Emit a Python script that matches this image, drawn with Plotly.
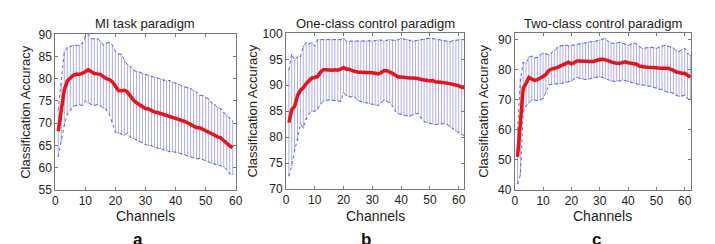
import plotly.graph_objects as go

# ---------- data ----------
ch_a = list(range(1, 60))
mean_a = [68.2, 73.5, 77.5, 79.5, 80.3, 80.8, 81.0, 81.0, 81.2, 81.6, 82.0, 81.6, 81.2, 81.1, 81.0,
          80.5, 80.0, 79.8, 79.3, 78.3, 77.4, 77.3, 77.4, 77.0, 76.0, 75.2, 74.6, 74.2, 73.6, 73.3,
          73.2, 72.8, 72.5, 72.4, 72.2, 72.0, 71.7, 71.6, 71.4, 71.1, 70.9, 70.7, 70.4, 70.1, 69.8,
          69.4, 69.0, 69.0, 68.7, 68.4, 68.1, 67.8, 67.3, 66.9, 66.7, 66.1, 65.4, 64.9, 64.5]
upper_a = [73, 79, 86, 87, 87.3, 87.5, 87.5, 87.5, 88, 89.5, 90, 89, 89, 89, 88.5,
           87.6, 88, 88.2, 87.6, 86.2, 85.6, 85.5, 84.2, 83.2, 82.7, 82.0, 81.6, 81.5, 81.2, 81.0,
           80.8, 80.5, 80.4, 80.2, 79.9, 79.8, 79.5, 79.6, 79.2, 79.0, 78.8, 78.4, 78.2, 78.0, 77.8,
           77.3, 77.0, 76.3, 76.2, 75.8, 75.5, 74.6, 74.2, 73.5, 73.3, 72.4, 71.8, 71.2, 70.5]
lower_a = [62.5, 66, 69.5, 72, 73, 73.8, 74.0, 74.1, 74.0, 75.0, 74.6, 74.2, 74.0, 74.2, 73.9,
           73.4, 73.0, 72.0, 70.2, 68.0, 67.8, 67.6, 67.3, 67.8, 66.8, 66.6, 66.2, 65.9, 65.6, 65.2,
           65.0, 64.9, 64.6, 64.4, 64.3, 64.1, 63.9, 63.6, 63.6, 63.5, 63.3, 63.1, 62.9, 62.6, 62.5,
           62.2, 62.0, 62.1, 61.8, 61.6, 61.3, 61.0, 60.8, 60.6, 60.4, 60.2, 59.5, 58.6, 58.5]

ch_b = list(range(1, 63))
mean_b = [82.8, 85.3, 85.9, 88.0, 89.0, 89.5, 90.3, 90.9, 91.4, 91.5, 91.7, 92.5, 93.0, 93.0, 92.9,
          92.9, 93.0, 92.9, 93.1, 93.4, 93.1, 93.1, 92.8, 92.6, 92.5, 92.5, 92.5, 92.4, 92.4, 92.4,
          92.3, 92.2, 92.4, 92.8, 92.8, 92.6, 92.3, 91.9, 91.6, 91.6, 91.5, 91.5, 91.4, 91.4, 91.4,
          91.3, 91.1, 91.0, 90.9, 90.8, 90.9, 90.6, 90.6, 90.6, 90.5, 90.4, 90.3, 90.1, 90.0, 89.9,
          89.6, 89.5]
upper_b = [93, 96, 94.8, 95.5, 95.5, 97.5, 98.2, 98.0, 98.2, 97.6, 98.8, 98.8, 98.8, 98.8, 98.8,
           98.8, 98.8, 98.8, 98.8, 99.0, 98.5, 98.5, 98.5, 98.5, 98.5, 98.5, 98.5, 98.5, 98.5, 98.5,
           98.6, 98.7, 98.7, 98.5, 98.7, 98.8, 98.7, 98.6, 98.8, 99.0, 98.9, 98.8, 98.7, 98.5, 98.6,
           98.7, 98.8, 98.9, 99.0, 99.1, 99.0, 98.9, 98.8, 98.7, 98.6, 98.5, 98.4, 98.6, 98.7, 98.8,
           98.8, 98.8]
lower_b = [72.5, 74.5, 77.5, 79.5, 82.5, 81.8, 83.5, 84.5, 85.0, 85.0, 85.4, 86.4, 86.9, 87.1, 87.2,
           87.1, 87.0, 87.0, 86.9, 88.5, 88.0, 87.8, 87.8, 87.7, 87.0, 86.8, 86.7, 86.6, 86.5, 86.3,
           86.2, 86.1, 86.6, 87.1, 86.9, 86.6, 86.0, 85.0, 84.5, 84.4, 84.2, 84.1, 84.0, 84.3, 84.5,
           84.6, 83.6, 83.0, 82.8, 82.6, 82.5, 82.4, 82.5, 82.6, 82.6, 82.4, 82.0, 81.6, 81.2, 80.8,
           80.5, 80.3]

ch_c = list(range(1, 63))
mean_c = [51, 62, 74, 75.5, 77.5, 77.0, 76.5, 76.8, 77.2, 77.8, 78.5, 79.8, 80.3, 80.5, 80.8,
          81.3, 81.8, 82.4, 82.6, 82.0, 82.6, 83.0, 83.0, 82.9, 82.8, 82.9, 82.8, 82.9, 83.3, 83.5,
          83.6, 83.4, 83.1, 82.7, 82.3, 82.2, 82.2, 82.6, 82.7, 82.4, 82.3, 82.2, 81.9, 81.3, 81.0,
          81.0, 80.9, 80.9, 80.8, 80.7, 80.6, 80.5, 80.6, 80.6, 80.3, 79.9, 79.3, 79.0, 78.9, 78.9,
          78.4, 77.6]
upper_c = [60, 77, 82.5, 82.3, 84.3, 84.6, 84.0, 84.2, 85.0, 85.6, 85.4, 85.0, 85.8, 86.5, 87.5,
           88.0, 88.2, 88.3, 88.0, 88.2, 88.2, 88.6, 88.8, 88.9, 89.0, 89.2, 89.4, 89.5, 89.7, 90.0,
           90.2, 90.5, 89.5, 89.0, 88.9, 89.0, 89.2, 89.0, 88.5, 88.2, 88.6, 89.0, 88.6, 87.8, 87.2,
           87.3, 87.5, 87.6, 87.4, 87.2, 87.6, 88.0, 88.2, 88.0, 87.7, 87.3, 86.5, 86.2, 86.8, 87.2,
           85.5, 84.8]
lower_c = [42, 45, 66, 68, 69, 70, 70.0, 69.8, 70.0, 70.6, 72.5, 75.0, 75.2, 75.3, 75.3,
           75.4, 75.6, 75.9, 76.0, 76.3, 77.0, 77.5, 77.2, 77.0, 76.8, 76.9, 77.2, 77.4, 77.6, 77.7,
           77.5, 77.2, 76.7, 76.3, 76.2, 76.3, 76.5, 76.6, 76.5, 76.2, 75.9, 75.6, 75.4, 75.1, 75.0,
           74.9, 74.7, 74.5, 74.2, 74.0, 73.6, 73.4, 73.0, 72.6, 72.5, 72.2, 71.6, 71.2, 71.3, 71.6,
           70.5, 70.0]

titles = ["MI task paradigm", "One-class control paradigm", "Two-class control paradigm"]
letters = ["a", "b", "c"]
x_ranges = [[0, 60], [0, 62], [0, 62.3]]
y_ranges = [[55, 90], [70, 100], [40, 92.2]]
y_ticks = [[55, 60, 65, 70, 75, 80, 85, 90], [70, 75, 80, 85, 90, 95, 100], [40, 50, 60, 70, 80, 90]]
x_ticks = [0, 10, 20, 30, 40, 50, 60]

W, H = 715, 244
x_dom_px = [(53, 236), (287, 468), (519, 698)]
y_dom_px = [(29, 194), (28, 193), (28, 194)]
ytitle_px = [22, 253, 487]
letter_px = [137, 368, 602]

panels = [(ch_a, mean_a, upper_a, lower_a), (ch_b, mean_b, upper_b, lower_b), (ch_c, mean_c, upper_c, lower_c)]

fig = go.Figure()
font_family = "Liberation Sans, Arial, sans-serif"
annotations = []
for i, (ch, m, up, lo) in enumerate(panels):
    xa = "x" if i == 0 else f"x{i+1}"
    ya = "y" if i == 0 else f"y{i+1}"
    plus = [u - v for u, v in zip(up, m)]
    minus = [v - l for v, l in zip(m, lo)]
    fig.add_trace(go.Scatter(x=ch, y=up, mode="lines", line=dict(color="rgba(60,60,220,0.8)", width=1, dash="dot"),
                             xaxis=xa, yaxis=ya, showlegend=False, hoverinfo="skip"))
    fig.add_trace(go.Scatter(x=ch, y=lo, mode="lines", line=dict(color="rgba(60,60,220,0.8)", width=1, dash="dot"),
                             xaxis=xa, yaxis=ya, showlegend=False, hoverinfo="skip"))
    fig.add_trace(go.Scatter(x=ch, y=m, mode="lines", line=dict(color="rgba(0,0,0,0)", width=0),
                             error_y=dict(type="data", symmetric=False, array=plus, arrayminus=minus,
                                          color="rgba(90,90,235,0.7)", thickness=0.7, width=1),
                             xaxis=xa, yaxis=ya, showlegend=False))
    fig.add_trace(go.Scatter(x=ch, y=m, mode="lines", line=dict(color="#ee1111", width=3.5),
                             xaxis=xa, yaxis=ya, showlegend=False))

    x0, x1 = x_dom_px[i]
    y0, y1 = y_dom_px[i]
    axis_common = dict(showgrid=False, zeroline=False, showline=True, mirror="ticks", linecolor="#777",
                       linewidth=1, ticks="inside", ticklen=3, tickcolor="#777",
                       tickfont=dict(family=font_family, size=12, color="#222"))
    fig.update_layout(**{
        ("xaxis" if i == 0 else f"xaxis{i+1}"): dict(domain=[x0 / W, x1 / W], range=x_ranges[i],
                                                      tickvals=x_ticks, anchor=ya, **axis_common),
        ("yaxis" if i == 0 else f"yaxis{i+1}"): dict(domain=[1 - y1 / H, 1 - y0 / H], range=y_ranges[i],
                                                      tickvals=y_ticks[i], anchor=xa, **axis_common),
    })
    cx = (x0 + x1) / 2 / W
    annotations.append(dict(text=titles[i], x=cx, y=1 - 17 / H, xref="paper", yref="paper", showarrow=False,
                            font=dict(family=font_family, size=13, color="#222"), xanchor="center", yanchor="middle"))
    annotations.append(dict(text="Channels", x=cx, y=1 - 222 / H, xref="paper", yref="paper", showarrow=False,
                            font=dict(family=font_family, size=14, color="#222"), xanchor="center", yanchor="middle"))
    annotations.append(dict(text="Classification Accuracy", x=ytitle_px[i] / W, y=1 - (y0 + y1) / 2 / H,
                            xref="paper", yref="paper", showarrow=False, textangle=-90,
                            font=dict(family=font_family, size=13, color="#222"), xanchor="center", yanchor="middle"))
    annotations.append(dict(text="<b>" + letters[i] + "</b>", x=letter_px[i] / W, y=1 - 247 / H,
                            xref="paper", yref="paper", showarrow=False,
                            font=dict(family=font_family, size=17, color="#111"), xanchor="center", yanchor="middle"))

fig.update_layout(width=W, height=H, margin=dict(l=0, r=0, t=0, b=0), paper_bgcolor="white",
                  plot_bgcolor="white", annotations=annotations, showlegend=False)
fig.write_html("out.html")
